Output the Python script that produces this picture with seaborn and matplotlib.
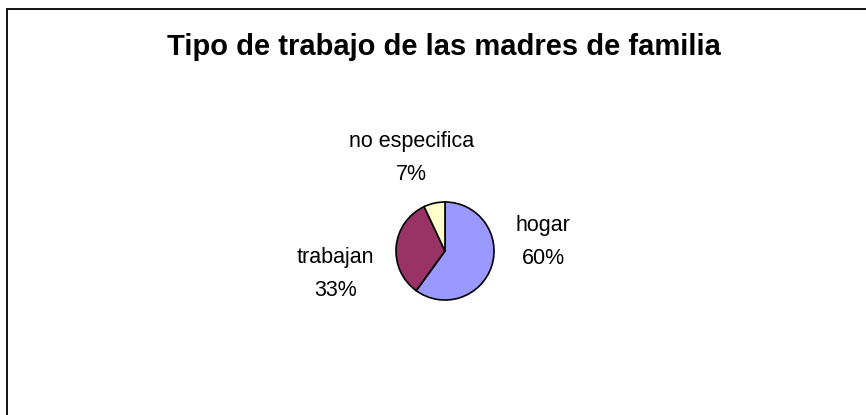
import matplotlib
matplotlib.use("Agg")
import matplotlib.pyplot as plt
from matplotlib.patches import Rectangle
import seaborn as sns

# Chart data
categories = ["hogar", "trabajan", "no especifica"]
percentages = [60, 33, 7]
slice_colors = ["#9999FF", "#993366", "#FFFFCC"]

# Label offsets (in pie radius units) from the pie centre, Excel-style placement
label_offsets = [(2.0, 0.18), (-2.24, -0.46), (-0.68, 1.89)]

sns.set_style("white")
plt.rcParams["font.family"] = ["Liberation Sans", "DejaVu Sans"]
plt.rcParams["text.color"] = "black"

W, H = 866, 415
fig = plt.figure(figsize=(W / 100, H / 100), dpi=100)

# Outer chart frame (only left and top edges visible in the crop)
fig.add_artist(Rectangle((7 / W, -0.5), 2.0, 1.5 - 9 / H, transform=fig.transFigure,
                         fill=False, edgecolor="black", linewidth=1.3))

fig.text(444 / W, 1 - 55 / H, "Tipo de trabajo de las madres de familia",
         ha="center", va="baseline", fontsize=21, fontweight="bold")

# Pie axes: centre (445, 251) px, radius 50 px
cx, cy, r = 445, 251, 50
ax = fig.add_axes([(cx - r) / W, (H - cy - r) / H, 2 * r / W, 2 * r / H])
wedges, _ = ax.pie(percentages, colors=sns.color_palette(slice_colors), startangle=90,
                   counterclock=False, radius=1.0,
                   wedgeprops=dict(edgecolor="black", linewidth=1.2))
ax.set_xlim(-1.02, 1.02)
ax.set_ylim(-1.02, 1.02)
ax.set_aspect("equal")
ax.axis("off")

for name, pct, (dx, dy) in zip(categories, percentages, label_offsets):
    ax.text(dx, dy, f"{name}\n{pct}%", ha="center", va="center", fontsize=15.5,
            linespacing=1.75, clip_on=False)

fig.savefig("out.png", dpi=100, facecolor="white")
